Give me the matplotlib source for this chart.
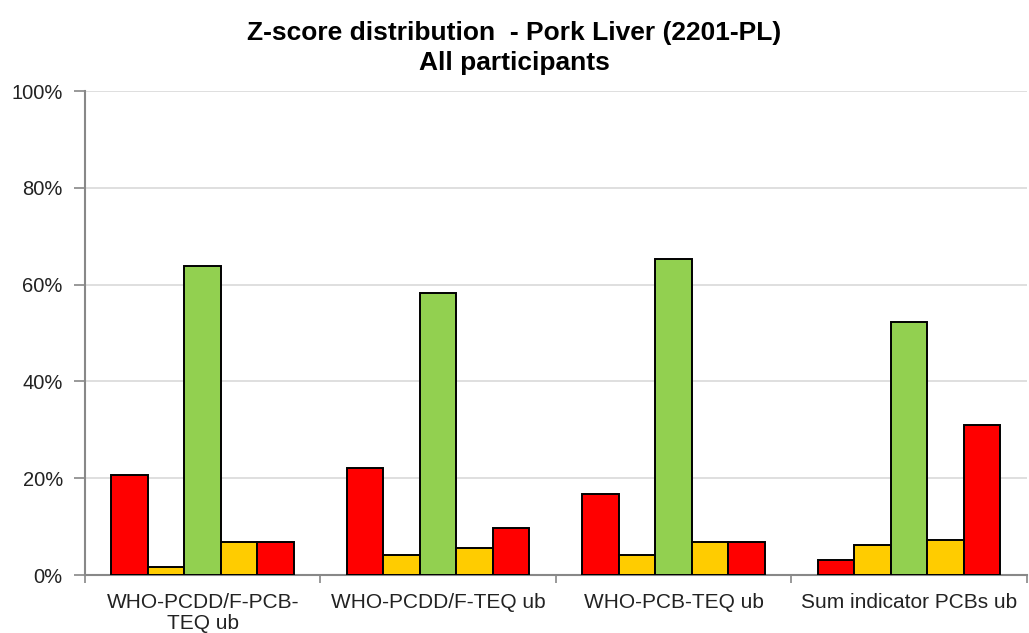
import numpy as np
import matplotlib.pyplot as plt
from matplotlib.ticker import FixedLocator, PercentFormatter

plt.rcParams['font.family'] = ['Liberation Sans', 'DejaVu Sans']

categories = ["WHO-PCDD/F-PCB-\nTEQ ub", "WHO-PCDD/F-TEQ ub",
              "WHO-PCB-TEQ ub", "Sum indicator PCBs ub"]

# share of participants per z-score class (%), five classes per analyte
z_below_3 = [20.7, 22.2, 16.7, 3.1]
z_minus_3_2 = [1.7, 4.2, 4.2, 6.2]
z_within_2 = [63.8, 58.3, 65.3, 52.3]
z_plus_2_3 = [6.9, 5.6, 6.9, 7.3]
z_above_3 = [6.9, 9.7, 6.9, 31.0]

series = [z_below_3, z_minus_3_2, z_within_2, z_plus_2_3, z_above_3]
colors = ["#FF0000", "#FFCC00", "#92D050", "#FFCC00", "#FF0000"]

fig = plt.figure(figsize=(10.29, 6.33), dpi=100)
ax = fig.add_axes([0.0826, 0.0916, 0.9154, 0.7645])

x = np.arange(len(categories))
width = 0.155
for k, (vals, col) in enumerate(zip(series, colors)):
    ax.bar(x + (k - 2) * width, vals, width, color=col,
           edgecolor="black", linewidth=1.4, zorder=3)

ax.set_xlim(-0.5, len(categories) - 0.5)
ax.set_ylim(0, 100)
ax.set_yticks(np.arange(0, 101, 20))
ax.yaxis.set_major_formatter(PercentFormatter(decimals=0))
ax.yaxis.grid(True, color="#D9D9D9", linewidth=1.2, zorder=0)

ax.set_xticks(x)
ax.set_xticklabels(categories, linespacing=1.15)
ax.xaxis.set_minor_locator(FixedLocator(np.arange(-0.5, len(categories), 1.0)))
ax.tick_params(axis="x", which="major", length=0, pad=13, labelsize=15,
               labelcolor="#222222")
ax.tick_params(axis="x", which="minor", length=6, color="#888888", width=1.2)
ax.tick_params(axis="y", length=8, color="#888888", width=1.2, pad=8,
               labelsize=14.5, labelcolor="#222222")

for side in ("top", "right"):
    ax.spines[side].set_visible(False)
for side in ("left", "bottom"):
    ax.spines[side].set_color("#888888")
    ax.spines[side].set_linewidth(1.5)

fig.text(0.5, 0.937, "Z-score distribution  - Pork Liver (2201-PL)",
         ha="center", va="baseline", fontsize=19, fontweight="bold")
fig.text(0.5, 0.889, "All participants",
         ha="center", va="baseline", fontsize=19, fontweight="bold")

fig.savefig("out.png", dpi=100)
